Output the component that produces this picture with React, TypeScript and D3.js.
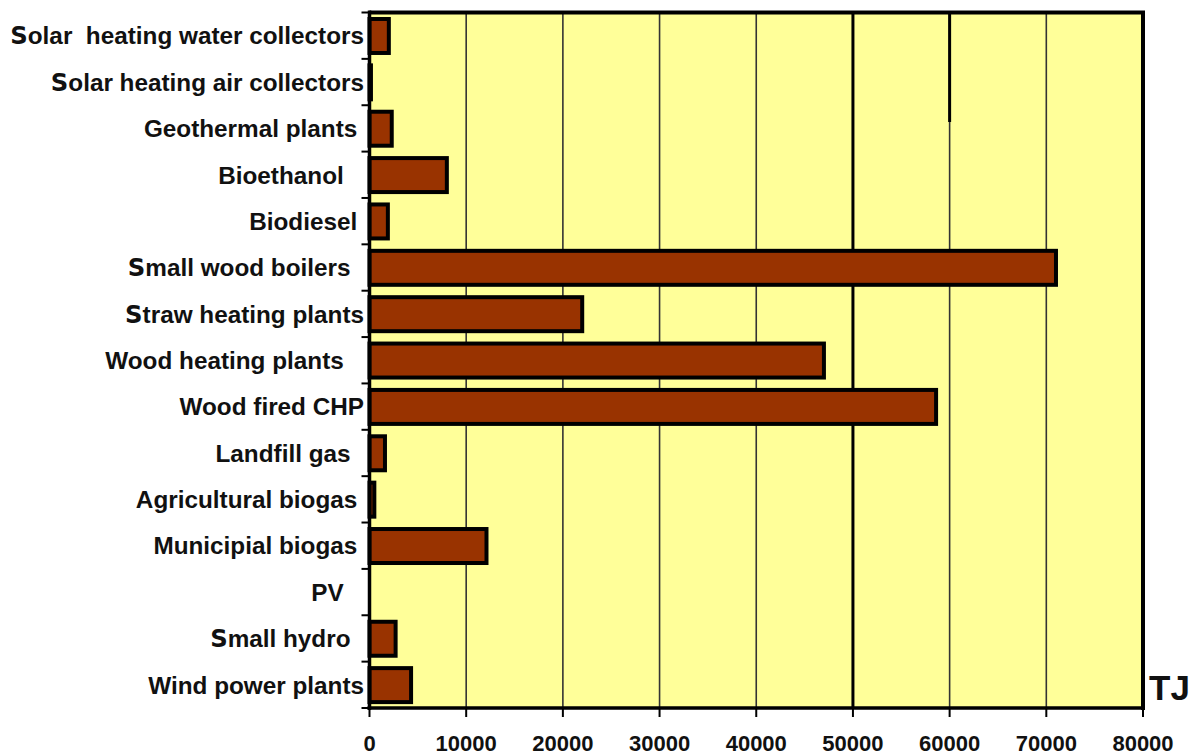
import React from "react";
import * as d3 from "d3";

const categories = [
  "Solar  heating water collectors",
  "Solar heating air collectors",
  "Geothermal plants ",
  "Bioethanol   ",
  "Biodiesel ",
  "Small wood boilers  ",
  "Straw heating plants",
  "Wood heating plants   ",
  "Wood fired CHP",
  "Landfill gas  ",
  "Agricultural biogas ",
  "Municipial biogas ",
  "PV   ",
  "Small hydro  ",
  "Wind power plants",
];

const values = [2000, 150, 2300, 8000, 1900, 71000, 22000, 47000, 58600, 1600, 500, 12100, 0, 2700, 4300];

const xTicks = [0, 10000, 20000, 30000, 40000, 50000, 60000, 70000, 80000];
const unitLabel = "TJ";

const W = 1200;
const H = 755;
const left = 369.5;
const right = 1143;
const top = 12.5;
const bottom = 708;

export default function App() {
  const x = d3.scaleLinear().domain([0, 80000]).range([left, right]);
  const y = d3.scaleBand<string>().domain(categories).range([top, bottom]).padding(0);
  const bw = y.bandwidth();
  const barOff = bw * 0.14;
  const barH = bw * 0.733;

  const renderLabel = (c: string) => {
    if (c.startsWith("S")) {
      return (
        <>
          <tspan style={{ fontFamily: "'DejaVu Sans', sans-serif", fontWeight: 700 }}>S</tspan>
          {c.slice(1)}
        </>
      );
    }
    return c;
  };

  return (
    <svg
      width={W}
      height={H}
      style={{ position: "absolute", left: 0, top: 0, background: "#ffffff" }}
      fontFamily="'Liberation Sans', Arial, sans-serif"
    >
      {/* plot background */}
      <rect x={left} y={top} width={right - left} height={bottom - top} fill="#FFFF99" />

      {/* gridlines */}
      {xTicks.slice(1, -1).map((t) => (
        <line
          key={"g" + t}
          x1={x(t)}
          x2={x(t)}
          y1={top}
          y2={bottom}
          stroke={t === 50000 ? "#000" : "#333"}
          strokeWidth={t === 50000 ? 3 : 1.6}
        />
      ))}
      <line x1={x(60000)} x2={x(60000)} y1={top} y2={122} stroke="#000" strokeWidth={3} />

      {/* bars */}
      {categories.map((c, i) => (
        <rect
          key={"b" + i}
          x={x(0)}
          y={(y(c) as number) + barOff}
          width={Math.max(0, x(values[i]) - x(0))}
          height={barH}
          fill="#993300"
          stroke={values[i] > 0 ? "#000" : "none"}
          strokeWidth={4}
        />
      ))}

      {/* frame */}
      <line x1={left} x2={right + 2} y1={top} y2={top} stroke="#000" strokeWidth={4} />
      <line x1={right} x2={right} y1={top} y2={bottom + 2} stroke="#000" strokeWidth={4} />
      <line x1={left - 2} x2={right + 2} y1={bottom} y2={bottom} stroke="#000" strokeWidth={3.5} />
      <line x1={left} x2={left} y1={top - 2} y2={bottom + 2} stroke="#000" strokeWidth={3.5} />

      {/* y ticks */}
      {categories.map((c, i) => (
        <line
          key={"yt" + i}
          x1={left - 8}
          x2={left}
          y1={y(c) as number}
          y2={y(c) as number}
          stroke="#000"
          strokeWidth={2}
        />
      ))}
      <line x1={left - 8} x2={left} y1={bottom} y2={bottom} stroke="#000" strokeWidth={2} />

      {/* x ticks */}
      {xTicks.map((t) => (
        <g key={"xt" + t}>
          <line x1={x(t)} x2={x(t)} y1={bottom} y2={bottom + 9} stroke="#000" strokeWidth={2} />
          <text
            x={x(t)}
            y={751}
            textAnchor="middle"
            fontSize={22}
            fontWeight="bold"
            fill="#111"
          >
            {t}
          </text>
        </g>
      ))}

      {/* category labels */}
      {categories.map((c, i) => (
        <text
          key={"l" + i}
          x={364}
          y={(y(c) as number) + bw / 2}
          dy="0.36em"
          textAnchor="end"
          fontSize={24.3}
          fontWeight="bold"
          fill="#111"
          style={{ whiteSpace: "pre" }}
        >
          {renderLabel(c)}
        </text>
      ))}

      {/* unit */}
      <text x={1149} y={700} fontSize={35} fontWeight="bold" fill="#111">
        {unitLabel}
      </text>
    </svg>
  );
}
